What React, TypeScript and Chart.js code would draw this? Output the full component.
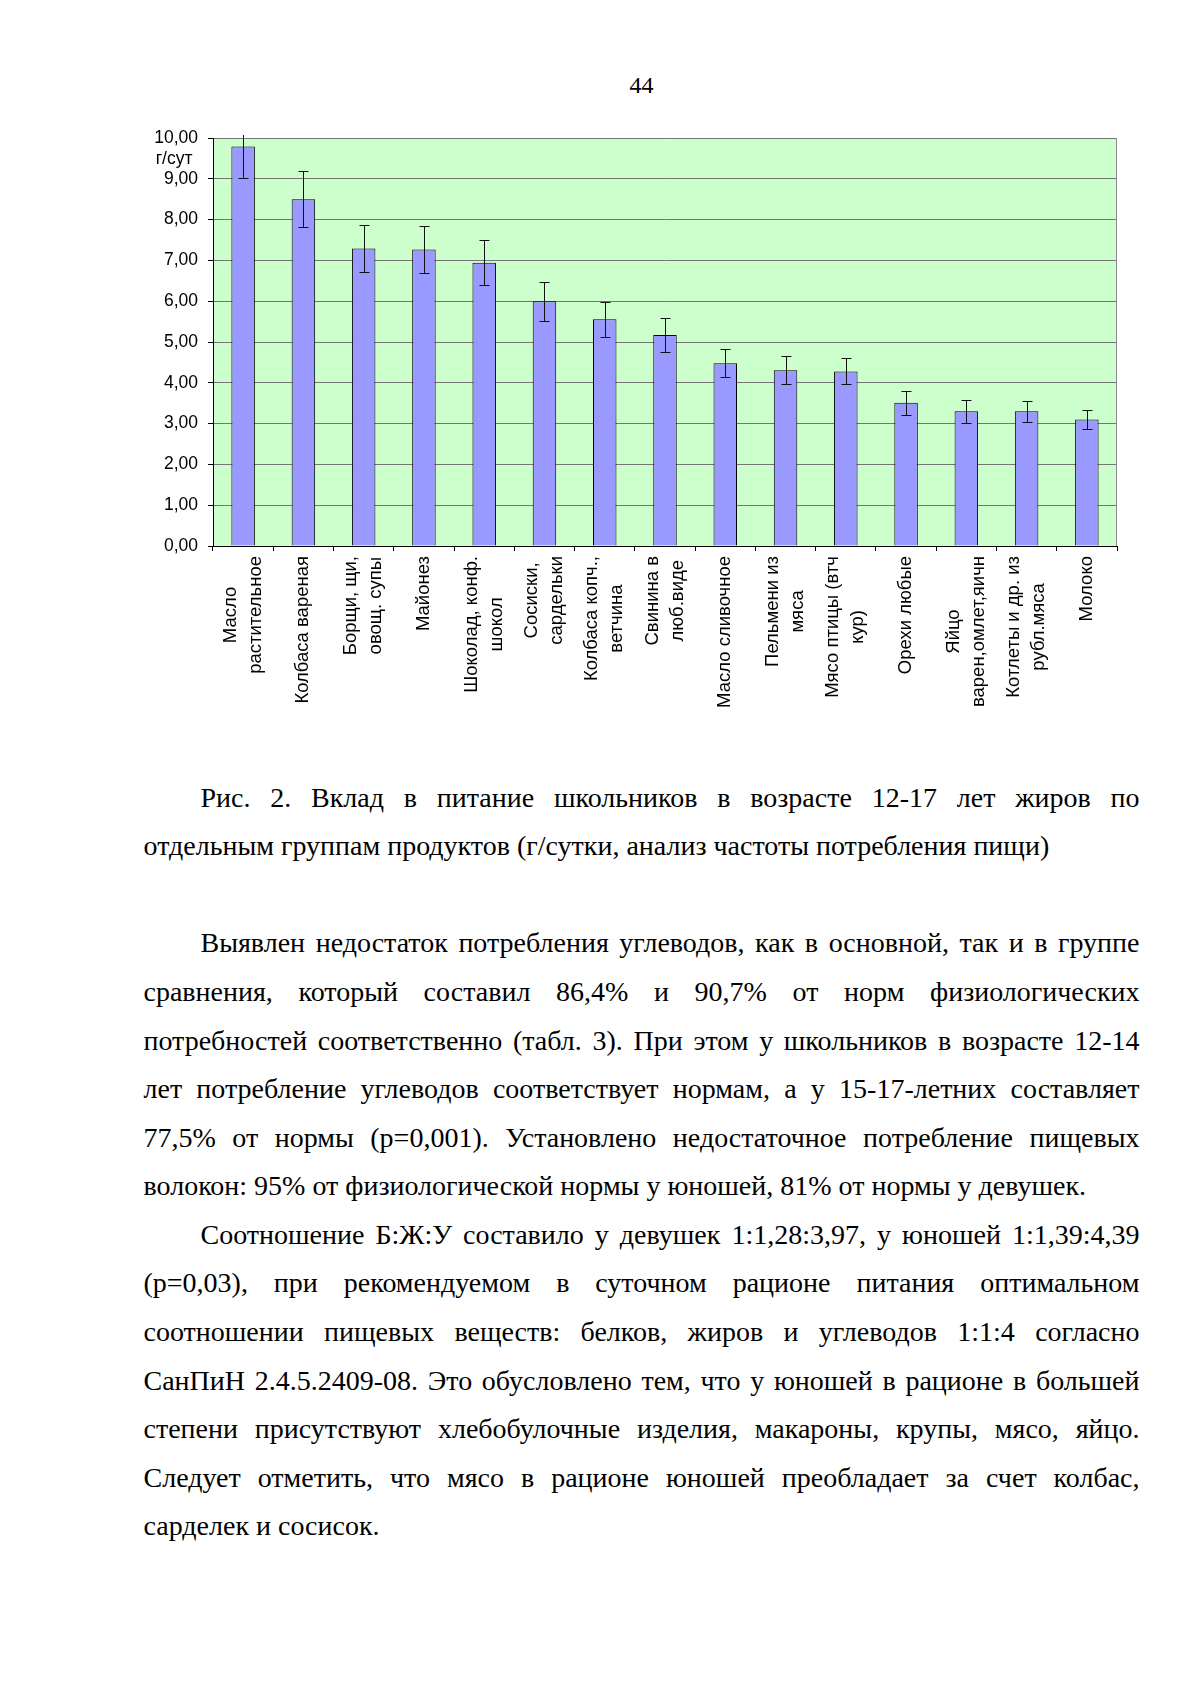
import React, { useEffect, useRef } from "react";
import { Chart, registerables } from "chart.js";

Chart.register(...registerables);

// ---- data ----
const categories: string[][] = [
  ["Масло", "растительное"],
  ["Колбаса вареная"],
  ["Борщи, щи,", "овощ. супы"],
  ["Майонез"],
  ["Шоколад, конф.", "шокол"],
  ["Сосиски,", "сардельки"],
  ["Колбаса копч.,", "ветчина"],
  ["Свинина в", "люб.виде"],
  ["Масло сливочное"],
  ["Пельмени из", "мяса"],
  ["Мясо птицы (втч", "кур)"],
  ["Орехи любые"],
  ["Яйцо", "варен,омлет,яичн"],
  ["Котлеты и др. из", "рубл.мяса"],
  ["Молоко"],
];
const values: number[] = [9.79, 8.5, 7.29, 7.27, 6.94, 6.0, 5.56, 5.17, 4.48, 4.31, 4.28, 3.51, 3.3, 3.3, 3.1];
const errors: number[] = [0.77, 0.69, 0.58, 0.57, 0.55, 0.48, 0.43, 0.41, 0.35, 0.34, 0.32, 0.3, 0.28, 0.26, 0.24];
const yTicks: number[] = [0, 1, 2, 3, 4, 5, 6, 7, 8, 9, 10];
const unitLabel = "г/сут";

const pageNumber = "44";
const captionLines: string[] = [
  "Рис. 2. Вклад в питание школьников в возрасте 12-17 лет жиров по",
  "отдельным группам продуктов (г/сутки, анализ частоты потребления пищи)",
];
const para1: string[] = [
  "Выявлен недостаток потребления углеводов, как в основной, так и в группе",
  "сравнения, который составил 86,4% и 90,7% от норм физиологических",
  "потребностей соответственно (табл. 3). При этом у школьников в возрасте 12-14",
  "лет потребление углеводов соответствует нормам, а у 15-17-летних составляет",
  "77,5% от нормы (р=0,001). Установлено недостаточное потребление пищевых",
  "волокон: 95% от физиологической нормы у юношей, 81% от нормы у девушек.",
];
const para2: string[] = [
  "Соотношение Б:Ж:У составило у девушек 1:1,28:3,97, у юношей 1:1,39:4,39",
  "(р=0,03), при рекомендуемом в суточном рационе питания оптимальном",
  "соотношении пищевых веществ: белков, жиров и углеводов 1:1:4 согласно",
  "СанПиН 2.4.5.2409-08. Это обусловлено тем, что у юношей в рационе в большей",
  "степени присутствуют хлебобулочные изделия, макароны, крупы, мясо, яйцо.",
  "Следует отметить, что мясо в рационе юношей преобладает за счет колбас,",
  "сарделек и сосисок.",
];

const CHART_FONT = '"Liberation Sans", Arial, sans-serif';
const FONT_SIZE = 17.5;
const XLABEL_FONT_SIZE = 18.5;

const plotPlugin = {
  id: "plotDecor",
  beforeDraw(chart: any) {
    const { ctx, chartArea: a } = chart;
    ctx.save();
    ctx.fillStyle = "#CCFFCC";
    ctx.fillRect(a.left, a.top, a.right - a.left, a.bottom - a.top);
    ctx.restore();
  },
  beforeDatasetsDraw(chart: any) {
    const { ctx, chartArea: a } = chart;
    ctx.save();
    ctx.strokeStyle = "#8a8a8a";
    ctx.lineWidth = 1;
    ctx.beginPath();
    const xr = Math.round(a.right) - 0.5;
    ctx.moveTo(xr, a.top);
    ctx.lineTo(xr, a.bottom);
    ctx.stroke();
    ctx.restore();
  },
  afterDatasetsDraw(chart: any) {
    const { ctx, chartArea: a } = chart;
    const ys = chart.scales.y;
    const meta = chart.getDatasetMeta(0);
    ctx.save();
    ctx.strokeStyle = "#111";
    ctx.lineWidth = 1;
    meta.data.forEach((bar: any, i: number) => {
      const x = Math.round(bar.x) + 0.5;
      const yTopRaw = ys.getPixelForValue(values[i] + errors[i]);
      const yBot = Math.round(ys.getPixelForValue(values[i] - errors[i])) + 0.5;
      const limit = a.top - 3;
      const clipped = yTopRaw < limit;
      const yTop = clipped ? limit : Math.round(yTopRaw) + 0.5;
      ctx.beginPath();
      ctx.moveTo(x, yTop);
      ctx.lineTo(x, yBot);
      ctx.moveTo(x - 5, yBot);
      ctx.lineTo(x + 5, yBot);
      if (!clipped) {
        ctx.moveTo(x - 5, yTop);
        ctx.lineTo(x + 5, yTop);
      }
      ctx.stroke();
    });
    ctx.restore();
  },
  afterDraw(chart: any) {
    const { ctx } = chart;
    const xs = chart.scales.x;
    const ys = chart.scales.y;
    ctx.save();
    ctx.fillStyle = "#000";
    ctx.font = `${XLABEL_FONT_SIZE}px ${CHART_FONT}`;
    categories.forEach((lines, i) => {
      const cx = xs.getPixelForValue(i);
      const w = Math.max(...lines.map((l) => ctx.measureText(l).width));
      const cy = xs.top + 10 + w / 2;
      ctx.save();
      ctx.translate(cx, cy);
      ctx.rotate(-Math.PI / 2);
      ctx.textAlign = "center";
      ctx.textBaseline = "middle";
      lines.forEach((l, j) => {
        ctx.fillText(l, 0, (j - (lines.length - 1) / 2) * 25);
      });
      ctx.restore();
    });
    ctx.font = `${FONT_SIZE}px ${CHART_FONT}`;
    ctx.textAlign = "right";
    ctx.textBaseline = "middle";
    ctx.fillText(unitLabel, ys.right - 20.5, ys.getPixelForValue(yTicks[yTicks.length - 1]) + 21);
    ctx.restore();
  },
};

function BarChart() {
  const ref = useRef<HTMLCanvasElement | null>(null);
  useEffect(() => {
    if (!ref.current) return;
    const chart = new Chart(ref.current, {
      type: "bar",
      data: {
        labels: categories.map((c) => c.join(" ")),
        datasets: [
          {
            data: values,
            backgroundColor: "#9999FF",
            borderColor: "#000000",
            borderWidth: 1,
            categoryPercentage: 1,
            barPercentage: 0.39,
          },
        ],
      },
      options: {
        animation: false,
        responsive: false,
        devicePixelRatio: 1,
        layout: { padding: { left: 0, top: 27, right: 13, bottom: 0 } },
        plugins: {
          legend: { display: false },
          tooltip: { enabled: false },
          title: { display: false },
        },
        scales: {
          x: {
            type: "category",
            offset: true,
            grid: {
              display: true,
              offset: true,
              drawOnChartArea: false,
              drawTicks: true,
              tickLength: 5,
              tickColor: "#000",
            },
            border: { display: true, color: "#000", width: 1 },
            ticks: { display: false },
            afterFit: (s: any) => {
              s.height = 185;
            },
          },
          y: {
            min: yTicks[0],
            max: yTicks[yTicks.length - 1],
            ticks: {
              stepSize: 1,
              color: "#000",
              padding: 10,
              font: { family: CHART_FONT, size: FONT_SIZE },
              callback: (v: any) => Number(v).toFixed(2).replace(".", ","),
            },
            grid: {
              color: "#757575",
              lineWidth: 1,
              drawTicks: true,
              tickLength: 5,
              tickColor: "#000",
            },
            border: { display: true, color: "#000", width: 1 },
            afterFit: (s: any) => {
              s.width = 83;
            },
          },
        },
      },
      plugins: [plotPlugin],
    });
    return () => chart.destroy();
  }, []);
  return (
    <canvas
      ref={ref}
      width={1000}
      height={620}
      style={{ position: "absolute", left: 130, top: 111, width: 1000, height: 620 }}
    />
  );
}

const LINE_H = 48.6;
const TEXT_LEFT = 143.5;
const TEXT_WIDTH = 996;
const INDENT = 57;

function TextLine({ text, top, indent, justify }: { text: string; top: number; indent: boolean; justify: boolean }) {
  return (
    <div
      style={{
        position: "absolute",
        left: TEXT_LEFT + (indent ? INDENT : 0),
        top,
        width: TEXT_WIDTH - (indent ? INDENT : 0),
        fontFamily: '"Liberation Serif", "Times New Roman", serif',
        fontSize: 28,
        lineHeight: `${LINE_H}px`,
        whiteSpace: "nowrap",
        textAlign: justify ? "justify" : "left",
        textAlignLast: justify ? "justify" : "left",
        color: "#000",
      } as React.CSSProperties}
    >
      {text}
    </div>
  );
}

function Paragraph({ lines, firstCenter }: { lines: string[]; firstCenter: number }) {
  return (
    <>
      {lines.map((t, i) => (
        <TextLine
          key={i}
          text={t}
          top={firstCenter + i * LINE_H - 25.2}
          indent={i === 0}
          justify={i < lines.length - 1}
        />
      ))}
    </>
  );
}

export default function App() {
  return (
    <div style={{ position: "absolute", left: 0, top: 0, width: 1196, height: 1692, background: "#fff" }}>
      <div
        style={{
          position: "absolute",
          left: TEXT_LEFT,
          width: TEXT_WIDTH,
          top: 73,
          textAlign: "center",
          fontFamily: '"Liberation Serif", "Times New Roman", serif',
          fontSize: 24,
          lineHeight: "24px",
        }}
      >
        {pageNumber}
      </div>
      <BarChart />
      <Paragraph lines={captionLines} firstCenter={798.8} />
      <Paragraph lines={para1} firstCenter={944.5} />
      <Paragraph lines={para2} firstCenter={1236} />
    </div>
  );
}
